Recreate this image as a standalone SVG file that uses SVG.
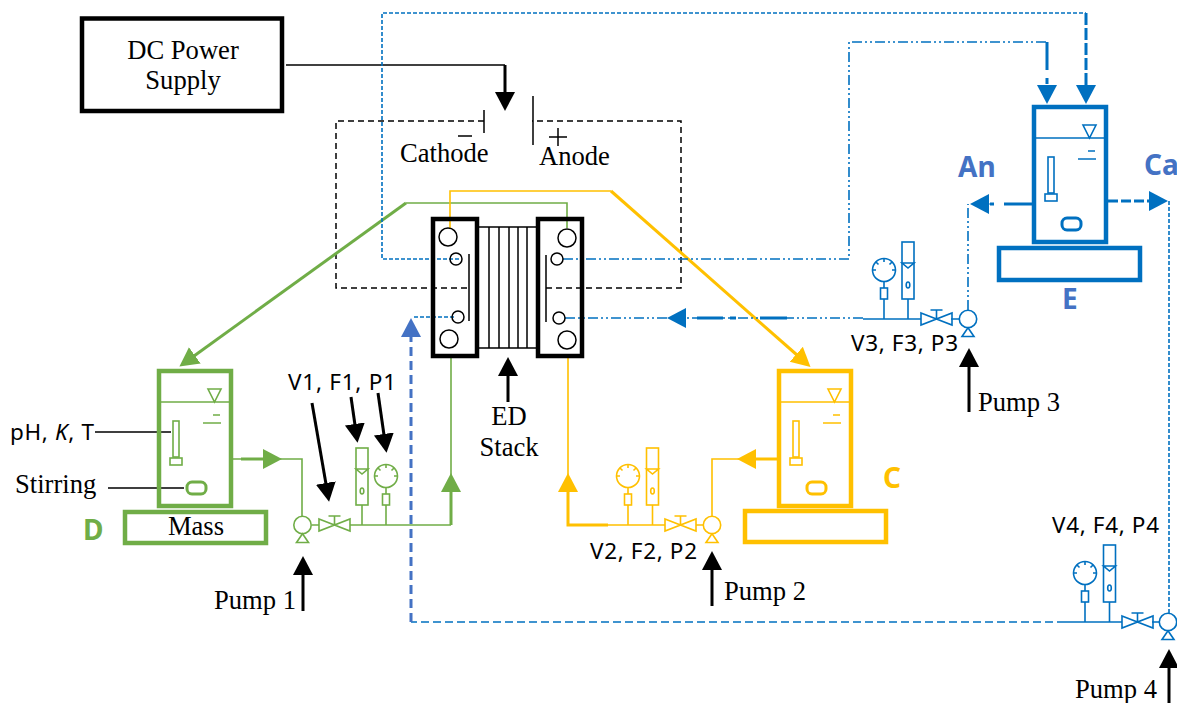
<svg xmlns="http://www.w3.org/2000/svg" width="1177" height="703" viewBox="0 0 1177 703">
<style>
text{fill:#000}
.t{font-family:"Liberation Serif","Times New Roman",serif;font-size:26.6px}
.s{font-family:"Noto Sans","Open Sans",sans-serif;font-size:22.5px}
.b{font-family:"Noto Sans","Open Sans",sans-serif;font-size:28px;font-weight:700}
.i{fill:none;stroke:currentColor;stroke-width:1.6}
.k{fill:none;stroke:#000;stroke-width:3}
.thin{fill:none;stroke:#000;stroke-width:1.5}
.g{color:#70ad47}.y{color:#ffc000}.u{color:#0070c0}
.lg{fill:none;stroke:#70ad47;stroke-width:1.6}
.ly{fill:none;stroke:#ffc000;stroke-width:1.6}
.lu{fill:none;stroke:#0070c0;stroke-width:1.6}
.dd{stroke-dasharray:10 3 2 3 2 3}
.dot{stroke-dasharray:4 2}
.dsh{stroke-dasharray:8 4}
</style>
<defs>
<marker id="ak" markerUnits="userSpaceOnUse" markerWidth="20" markerHeight="22" refX="1" refY="11" orient="auto"><path d="M0,1L19,11L0,21z" fill="#000"/></marker>
<marker id="ag" markerUnits="userSpaceOnUse" markerWidth="20" markerHeight="22" refX="1" refY="11" orient="auto"><path d="M0,1L19,11L0,21z" fill="#70ad47"/></marker>
<marker id="ay" markerUnits="userSpaceOnUse" markerWidth="20" markerHeight="22" refX="1" refY="11" orient="auto"><path d="M0,1L19,11L0,21z" fill="#ffc000"/></marker>
<marker id="au" markerUnits="userSpaceOnUse" markerWidth="20" markerHeight="22" refX="1" refY="11" orient="auto"><path d="M0,1L19,11L0,21z" fill="#0070c0"/></marker>
<marker id="ai" markerUnits="userSpaceOnUse" markerWidth="20" markerHeight="22" refX="1" refY="11" orient="auto"><path d="M0,1L19,11L0,21z" fill="#4472c4"/></marker>
<g id="tank">
<rect x="2" y="2" width="72" height="135" fill="none" stroke="currentColor" stroke-width="4.500"/>
<path class="i" d="M2,33H74M51,20H64L57.500,33zM56,46H63M46,54H64"/>
<rect class="i" x="16" y="52" width="6" height="36"/>
<rect class="i" x="13" y="89" width="12" height="7"/>
<rect x="30" y="113" width="19" height="12" rx="5" fill="none" stroke="currentColor" stroke-width="3"/>
</g>
<g id="gauge">
<circle class="i" r="11.500"/>
<path class="i" d="M0,-11.500V-8M-8,-8L-5.500,-5.500M8,-8L5.500,-5.500M-11.500,0H-8M11.500,0H8M0,11.500V18"/>
<rect class="i" x="-3.500" y="18" width="7" height="11"/>
<path class="i" d="M0,29V49"/>
</g>
<g id="flow">
<rect class="i" x="-6" y="0" width="12" height="57"/>
<path class="i" d="M-6,21H6L0,26zM0,57V77"/>
<ellipse class="i" cx="0" cy="43" rx="1.800" ry="3"/>
</g>
<g id="valve">
<path class="i" d="M0,-6L31,6V-6L0,6zM15.500,0V-9M9.500,-9H21.500"/>
</g>
<g id="pump">
<circle class="i" r="8.700"/>
<path class="i" d="M0,8.700L-6,17.500H6z"/>
</g>
</defs>

<g id="connectors">
<path class="thin" d="M286,65H505"/>
<path class="k" d="M505,65V93" marker-end="url(#ak)"/>
<path d="M484,121H336V288H469M546,288H681V121H532" fill="none" stroke="#000" stroke-width="1.500" stroke-dasharray="6 4"/>
<path class="lg" d="M567,228V203H406"/>
<path d="M406,203L194,356" fill="none" stroke="#70ad47" stroke-width="3" marker-end="url(#ag)"/>
<path class="lg" d="M451,356V490"/>
<path d="M451,525V491" fill="none" stroke="#70ad47" stroke-width="3" marker-end="url(#ag)"/>
<path class="lg" d="M350,525H451M233,459H302V516M312,525H319"/>
<path d="M241,459H264" fill="none" stroke="#70ad47" stroke-width="3" marker-end="url(#ag)"/>
<path class="ly" d="M450,228V191H611"/>
<path d="M611,191L797,355" fill="none" stroke="#ffc000" stroke-width="3" marker-end="url(#ay)"/>
<path class="ly" d="M568,356V490M608,525H665M696,525H703M712,516V459H755"/>
<path d="M608,525H568V491" fill="none" stroke="#ffc000" stroke-width="3" marker-end="url(#ay)"/>
<path d="M777,459H755" fill="none" stroke="#ffc000" stroke-width="3" marker-end="url(#ay)"/>
<path class="lu dd" d="M968,310V204"/>
<path d="M1032,204H1004M994,204H990" fill="none" stroke="#0070c0" stroke-width="3"/>
<path d="M990,204H988" fill="none" stroke="#0070c0" stroke-width="1" marker-end="url(#au)"/>
<path class="lu" d="M951,319H960M921,319H863"/>
<path class="lu dd" d="M863,318H685M565,318H685"/>
<path d="M723,318H697M736,318H730M787,318H760" fill="none" stroke="#0070c0" stroke-width="3"/>
<path d="M686,318H685" fill="none" stroke="#0070c0" stroke-width="1" marker-end="url(#au)"/>
<path d="M1108,201H1150" fill="none" stroke="#0070c0" stroke-width="3" stroke-dasharray="10 3"/>
<path d="M1149,201H1150" fill="none" stroke="#0070c0" stroke-width="1" marker-end="url(#au)"/>
<path class="lu dot" d="M1169,201V613"/>
<path class="lu" d="M1152,622H1159M1122,622H1065"/>
<path class="lu dsh" d="M1065,622H411"/>
<path d="M411,622V336" fill="none" stroke="#4472c4" stroke-width="3" stroke-dasharray="9 5" marker-end="url(#ai)"/>
<path class="lu dot" d="M414,317H455"/>
<path class="lu dot" d="M459,259H382V13H1086"/>
<path d="M1086,13V86" fill="none" stroke="#0070c0" stroke-width="3" stroke-dasharray="12 3" marker-end="url(#au)"/>
<path class="lu dd" d="M563,259H849V42H1047"/>
<path d="M1047,42V70M1047,78V84" fill="none" stroke="#0070c0" stroke-width="3"/>
<path d="M1047,85V86" fill="none" stroke="#0070c0" stroke-width="1" marker-end="url(#au)"/>
<path class="thin" d="M95,432H171M108,488H184"/>
<path class="k" d="M303,611V574" marker-end="url(#ak)"/>
<path class="k" d="M712,606V569" marker-end="url(#ak)"/>
<path class="k" d="M969,412V366" marker-end="url(#ak)"/>
<path class="k" d="M1169,703V667" marker-end="url(#ak)"/>
<path class="k" d="M508,402V375" marker-end="url(#ak)"/>
<path class="k" d="M312,403L326,484" marker-end="url(#ak)"/>
<path class="k" d="M351,397L355,425" marker-end="url(#ak)"/>
<path class="k" d="M378,393L384,435" marker-end="url(#ak)"/>
</g>

<g id="dc-supply">
<rect x="82" y="18.500" width="200" height="92.500" fill="none" stroke="#000" stroke-width="4.500"/>
<text class="t" x="183" y="59" text-anchor="middle">DC Power</text>
<text class="t" x="183" y="89" text-anchor="middle">Supply</text>
</g>
<g id="electrodes">
<path class="thin" d="M484,110V133M533,96V145M458,136H472M549,137H567M558,128V146"/>
<text class="t" x="400" y="162">Cathode</text>
<text class="t" x="539" y="165">Anode</text>
</g>
<g id="ed-stack">
<rect x="433" y="219" width="44" height="137" fill="none" stroke="#000" stroke-width="4.500"/>
<rect x="538" y="219" width="44" height="137" fill="none" stroke="#000" stroke-width="4.500"/>
<path class="thin" d="M479,227H536M479,348H536M489,227V348M499,227V348M509,227V348M518,227V348M527,227V348M469,254V321M546,255V322"/>
<g fill="none" stroke="#000" stroke-width="1.500">
<circle cx="448" cy="237" r="9"/><circle cx="456" cy="259" r="6"/><circle cx="458" cy="317" r="6"/><circle cx="449" cy="339" r="9"/>
<circle cx="567" cy="238" r="9"/><circle cx="557" cy="259" r="6"/><circle cx="559" cy="318" r="6"/><circle cx="567" cy="340" r="9"/>
</g>
<text class="t" x="509" y="425" text-anchor="middle">ED</text>
<text class="t" x="509" y="456" text-anchor="middle">Stack</text>
</g>
<g id="tank-d" class="g">
<use href="#tank" x="157" y="369"/>
<rect x="125" y="512" width="141" height="31" fill="none" stroke="currentColor" stroke-width="4.500"/>
<text class="t" x="196" y="535" text-anchor="middle">Mass</text>
<text class="b" x="83" y="540" style="fill:#70ad47">D</text>
<text class="s" x="10" y="440" textLength="84">pH, <tspan font-style="italic">K</tspan>, T</text>
<text class="t" x="15" y="493">Stirring</text>
</g>
<g id="line-1" class="g">
<use href="#pump" x="302.500" y="525"/>
<use href="#valve" x="319" y="525"/>
<use href="#flow" x="362" y="448"/>
<use href="#gauge" x="386" y="476"/>
<text class="s" x="288" y="390" textLength="108">V1, F1, P1</text>
<text class="t" x="214" y="609">Pump 1</text>
</g>
<g id="tank-c" class="y">
<use href="#tank" x="777" y="369"/>
<rect x="745" y="511" width="141" height="31" fill="none" stroke="currentColor" stroke-width="4.500"/>
<text class="b" x="883" y="488" style="fill:#ffc000">C</text>
</g>
<g id="line-2" class="y">
<use href="#pump" x="712" y="525"/>
<use href="#valve" x="665" y="525"/>
<use href="#flow" x="652.500" y="448"/>
<use href="#gauge" x="628" y="476"/>
<text class="s" x="590" y="559" textLength="107">V2, F2, P2</text>
<text class="t" x="724" y="600">Pump 2</text>
</g>
<g id="tank-e" class="u">
<use href="#tank" x="1032" y="105"/>
<rect x="999" y="248" width="141" height="32" fill="none" stroke="currentColor" stroke-width="4.500"/>
<text class="b" x="1062" y="309" style="fill:#4472c4">E</text>
<text class="b" x="958" y="177" style="fill:#4472c4">An</text>
<text class="b" x="1144" y="175" style="fill:#4472c4">Ca</text>
</g>
<g id="line-3" class="u">
<use href="#pump" x="968" y="319"/>
<use href="#valve" x="921" y="319"/>
<use href="#flow" x="908" y="242"/>
<use href="#gauge" x="884" y="270"/>
<text class="s" x="851" y="351" textLength="107">V3, F3, P3</text>
<text class="t" x="978" y="411">Pump 3</text>
</g>
<g id="line-4" class="u">
<use href="#pump" x="1168" y="622"/>
<use href="#valve" x="1122" y="622"/>
<use href="#flow" x="1109.500" y="545"/>
<use href="#gauge" x="1085" y="573"/>
<text class="s" x="1052" y="533" textLength="107">V4, F4, P4</text>
<text class="t" x="1075" y="698">Pump 4</text>
</g>
</svg>
